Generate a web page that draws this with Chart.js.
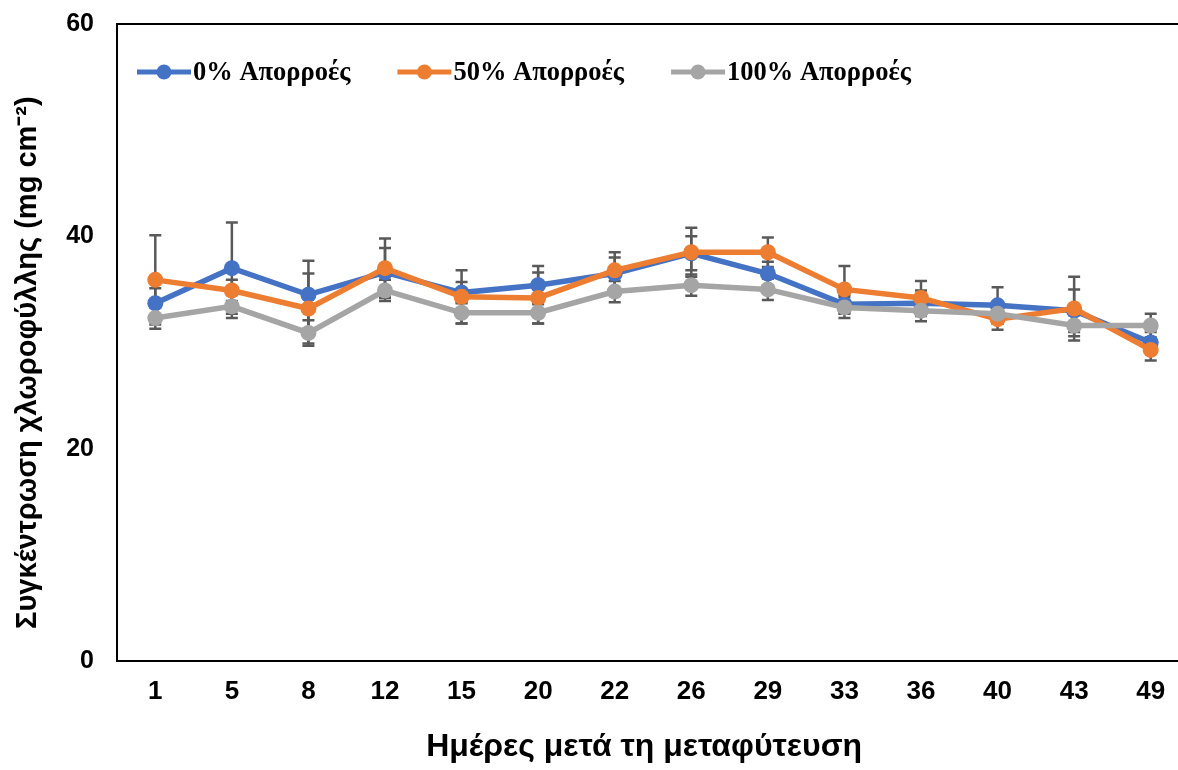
<!DOCTYPE html>
<html lang="el">
<head>
<meta charset="UTF-8">
<title>Συγκέντρωση χλωροφύλλης</title>
<script src="https://cdn.jsdelivr.net/npm/chart.js"></script>
<style>
  html, body { margin: 0; padding: 0; background: #fff; overflow: hidden; }
  canvas { display: block; }
</style>
</head>
<body>
<canvas id="chloro" width="1200" height="770"></canvas>
<script>
const days = ["1", "5", "8", "12", "15", "20", "22", "26", "29", "33", "36", "40", "43", "49"];
const yTicks = [0, 20, 40, 60];
const seriesNames = ["0% Απορροές", "50% Απορροές", "100% Απορροές"];

const runoff0 = [33.7, 37.0, 34.5, 36.6, 34.7, 35.4, 36.5, 38.4, 36.5, 33.6, 33.7, 33.5, 33.0, 30.0];
const runoff50 = [35.9, 34.9, 33.2, 37.0, 34.3, 34.2, 36.8, 38.5, 38.5, 35.0, 34.2, 32.2, 33.2, 29.3];
const runoff100 = [32.3, 33.4, 30.9, 34.9, 32.8, 32.8, 34.8, 35.4, 35.0, 33.3, 33.0, 32.7, 31.6, 31.6];

// error bar half-lengths (same units as the values)
const err0 = [1.4, 4.3, 3.2, 2.3, 1.0, 1.8, 1.5, 1.6, 1.1, 0.9, 1.2, 1.7, 2.0, 1.0];
const err50 = [4.2, 1.0, 3.3, 2.8, 2.5, 2.4, 1.7, 2.3, 1.4, 2.2, 1.6, 1.0, 3.0, 1.0];
const err100 = [1.0, 1.1, 1.2, 1.0, 1.0, 1.0, 1.0, 1.0, 1.0, 1.0, 1.0, 0.9, 1.0, 1.1];

const colors = ['#4472C4', '#ED7D31', '#A5A5A5'];

const errorBars = {
  id: 'errorBars',
  beforeDatasetsDraw(chart) {
    const ctx = chart.ctx;
    const y = chart.scales.y;
    ctx.save();
    ctx.strokeStyle = '#595959';
    ctx.lineWidth = 2.5;
    chart.data.datasets.forEach((ds, i) => {
      chart.getDatasetMeta(i).data.forEach((pt, j) => {
        const top = y.getPixelForValue(ds.data[j] + ds.errors[j]);
        const bot = y.getPixelForValue(ds.data[j] - ds.errors[j]);
        ctx.beginPath();
        ctx.moveTo(pt.x, top); ctx.lineTo(pt.x, bot);
        ctx.moveTo(pt.x - 6, top); ctx.lineTo(pt.x + 6, top);
        ctx.moveTo(pt.x - 6, bot); ctx.lineTo(pt.x + 6, bot);
        ctx.stroke();
      });
    });
    ctx.restore();
  }
};

// top frame line + legend drawn inside the plot area
const frameAndLegend = {
  id: 'frameAndLegend',
  afterDraw(chart) {
    const ctx = chart.ctx;
    const area = chart.chartArea;
    ctx.save();
    ctx.strokeStyle = '#000';
    ctx.lineWidth = 2;
    ctx.beginPath();
    ctx.moveTo(area.left, area.top);
    ctx.lineTo(area.right, area.top);
    ctx.stroke();

    ctx.font = 'bold 26.5px "Liberation Serif", "Times New Roman", serif';
    ctx.textBaseline = 'middle';
    let x = area.left + 20;
    const ly = 72;
    chart.data.datasets.forEach((ds) => {
      ctx.strokeStyle = ds.borderColor;
      ctx.lineWidth = 5;
      ctx.beginPath();
      ctx.moveTo(x, ly); ctx.lineTo(x + 54, ly);
      ctx.stroke();
      ctx.fillStyle = ds.borderColor;
      ctx.beginPath();
      ctx.arc(x + 27, ly, 7.5, 0, Math.PI * 2);
      ctx.fill();
      ctx.fillStyle = '#000';
      ctx.fillText(ds.label, x + 56, ly + 1);
      x += 56 + ctx.measureText(ds.label).width + 47;
    });
    ctx.restore();
  }
};

function lineSet(label, data, errors, color, order) {
  return {
    label: label,
    data: data,
    errors: errors,
    borderColor: color,
    backgroundColor: color,
    borderWidth: 5.5,
    pointRadius: 8,
    pointHoverRadius: 8,
    pointBorderWidth: 0,
    tension: 0,
    order: order
  };
}

new Chart(document.getElementById('chloro'), {
  type: 'line',
  data: {
    labels: days,
    datasets: [
      lineSet(seriesNames[0], runoff0, err0, colors[0], 3),
      lineSet(seriesNames[1], runoff50, err50, colors[1], 2),
      lineSet(seriesNames[2], runoff100, err100, colors[2], 1)
    ]
  },
  options: {
    responsive: false,
    devicePixelRatio: 1,
    animation: false,
    layout: { padding: { top: 24, right: 11, left: 0, bottom: 0 } },
    plugins: { legend: { display: false }, tooltip: { enabled: false } },
    scales: {
      x: {
        offset: true,
        grid: { display: false, drawTicks: false },
        border: { color: '#000', width: 2 },
        ticks: { color: '#000', padding: 15, font: { family: '"Liberation Sans", Arial', size: 26, weight: 'bold' } },
        title: {
          display: true,
          text: 'Ημέρες μετά τη μεταφύτευση  ',
          color: '#000',
          padding: { top: 0, bottom: 4 },
          font: { family: '"Liberation Sans", Arial', size: 32, weight: 'bold' }
        },
        afterFit(scale) { scale.height = 109; }
      },
      y: {
        min: 0,
        max: 60,
        afterBuildTicks(scale) { scale.ticks = yTicks.map(v => ({ value: v })); },
        grid: { display: false, drawTicks: false },
        border: { color: '#000', width: 2 },
        ticks: { color: '#000', padding: 23, font: { family: '"Liberation Sans", Arial', size: 25, weight: 'bold' } },
        title: {
          display: true,
          text: 'Συγκέντρωση χλωροφύλλης (mg cm⁻²)     ',
          color: '#000',
          padding: { top: 11, bottom: 0 },
          font: { family: '"Liberation Sans", Arial', size: 29, weight: 'bold' }
        },
        afterFit(scale) {
          scale.width = 117;
          scale.paddingTop = 0;
          scale.paddingBottom = 0;
        }
      }
    }
  },
  plugins: [errorBars, frameAndLegend]
});
</script>
</body>
</html>
